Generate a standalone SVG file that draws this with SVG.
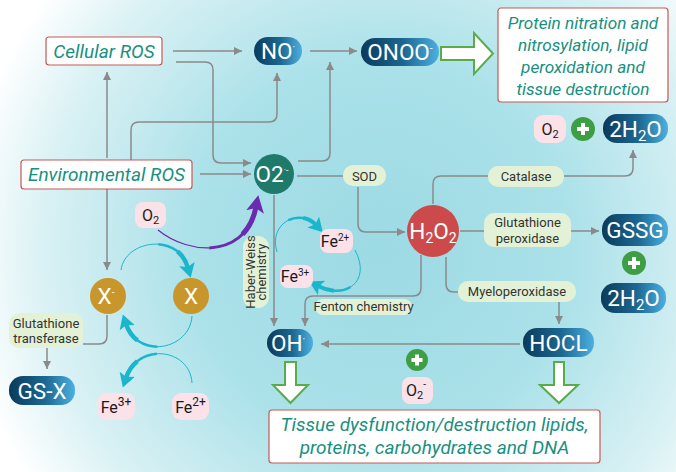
<svg xmlns="http://www.w3.org/2000/svg" width="676" height="472" viewBox="0 0 676 472">
<defs>
<radialGradient id="bg" gradientUnits="userSpaceOnUse" cx="380" cy="250" r="420">
<stop offset="0" stop-color="#9cdae4"/>
<stop offset="0.45" stop-color="#abe1e9"/>
<stop offset="0.8" stop-color="#d9f1f4"/>
<stop offset="1" stop-color="#ffffff"/>
</radialGradient>
<linearGradient id="pill" x1="0" y1="0" x2="1" y2="0">
<stop offset="0" stop-color="#0b3a5b"/>
<stop offset="0.55" stop-color="#1c6892"/>
<stop offset="1" stop-color="#4cb0e0"/>
</linearGradient>
<marker id="ah" markerUnits="userSpaceOnUse" markerWidth="10" markerHeight="10" refX="8" refY="4" orient="auto">
<path d="M0,0 L8,4 L0,8 Z" fill="#8a8a8a"/>
</marker>
<marker id="cy" markerUnits="userSpaceOnUse" markerWidth="18" markerHeight="18" refX="4" refY="8" orient="auto">
<path d="M0,0 L14,8 L0,16 L3,8 Z" fill="#1bb6cc"/>
</marker>
<marker id="pu" markerUnits="userSpaceOnUse" markerWidth="20" markerHeight="20" refX="5" refY="9" orient="auto">
<path d="M0,0 L17,9 L0,18 L4,9 Z" fill="#6a2bb0"/>
</marker>
<style>
.ln{fill:none;stroke:#8a8a8a;stroke-width:1.5}
.bx{fill:#ffffff;stroke:#c45a55;stroke-width:1.2}
.it{font-family:Roboto,"Liberation Sans",sans-serif;font-style:italic;fill:#17907f;text-anchor:middle}
.pt{font-family:Roboto,"Liberation Sans",sans-serif;fill:#ffffff;text-anchor:middle;font-size:22.5px}
.pk{fill:#fbe1e8}
.pkt{font-family:Roboto,"Liberation Sans",sans-serif;fill:#1a1a1a;text-anchor:middle;font-size:16px}
.gl{fill:#e3f2d6}
.glt{font-family:Roboto,"Liberation Sans",sans-serif;fill:#333333;text-anchor:middle;font-size:13px}
.ha{fill:#ffffff;stroke:#5aab49;stroke-width:2;stroke-linejoin:miter}
.cy{fill:none;stroke:#1bb6cc}
.pu{fill:none;stroke:#6a2bb0}
</style>
</defs>
<rect width="676" height="472" fill="url(#bg)"/>

<g id="connectors">
<path class="ln" d="M173,51 H242" marker-end="url(#ah)"/>
<path class="ln" d="M176,62 H205 Q213,62 213,70 V155 Q213,163 221,163 H251" marker-end="url(#ah)"/>
<path class="ln" d="M200,174 H251" marker-end="url(#ah)"/>
<path class="ln" d="M107,158 V72" marker-end="url(#ah)"/>
<path class="ln" d="M131,160 V130 Q131,122 139,122 H269 Q277,122 277,114 V73" marker-end="url(#ah)"/>
<path class="ln" d="M298,161 H322 Q330,161 330,153 V62" marker-end="url(#ah)"/>
<path class="ln" d="M310,51 H357" marker-end="url(#ah)"/>
<path class="ln" d="M297,176 H343"/>
<path class="ln" d="M358,187 V224 Q358,232 366,232 H405" marker-end="url(#ah)"/>
<path class="ln" d="M433,204 V184 Q433,176 441,176 H488"/>
<path class="ln" d="M564,176 H625 Q633,176 633,168 V150" marker-end="url(#ah)"/>
<path class="ln" d="M460,231 H484"/>
<path class="ln" d="M571,231 H599" marker-end="url(#ah)"/>
<path class="ln" d="M446,257 V284 Q446,292 454,292 H458"/>
<path class="ln" d="M559,301 V324" marker-end="url(#ah)"/>
<path class="ln" d="M520,344 H321" marker-end="url(#ah)"/>
<path class="ln" d="M274,195 V326" marker-end="url(#ah)"/>
<path class="ln" d="M421,255 V288 Q421,296 413,296 H313 Q305,296 305,304 V326" marker-end="url(#ah)"/>
<path class="ln" d="M107,189 V270" marker-end="url(#ah)"/>
<path class="ln" d="M107,315 V336 Q107,344 99,344 H83"/>
<path class="ln" d="M47,348 V369" marker-end="url(#ah)"/>

<g>
<path class="cy" stroke-width="1" d="M121,270 C125,240 178,232 188,268" pathLength="100"/>
<path class="cy" stroke-width="2.5" d="M121,270 C125,240 178,232 188,268" pathLength="100" stroke-dasharray="0 55 45"/>
<path class="cy" stroke-width="4.5" d="M121,270 C125,240 178,232 188,268" pathLength="100" stroke-dasharray="0 78 22" marker-end="url(#cy)"/>
</g>
<g>
<path class="cy" stroke-width="1" d="M192,316 C190,350 138,360 126,324" pathLength="100"/>
<path class="cy" stroke-width="2.5" d="M192,316 C190,350 138,360 126,324" pathLength="100" stroke-dasharray="0 55 45"/>
<path class="cy" stroke-width="4.5" d="M192,316 C190,350 138,360 126,324" pathLength="100" stroke-dasharray="0 78 22" marker-end="url(#cy)"/>
</g>
<g>
<path class="cy" stroke-width="1" d="M192,383 C190,348 138,342 126,378" pathLength="100"/>
<path class="cy" stroke-width="2.5" d="M192,383 C190,348 138,342 126,378" pathLength="100" stroke-dasharray="0 55 45"/>
<path class="cy" stroke-width="4.5" d="M192,383 C190,348 138,342 126,378" pathLength="100" stroke-dasharray="0 78 22" marker-end="url(#cy)"/>
</g>
<g>
<path class="cy" stroke-width="1" d="M277,252 C268,222 300,208 316,225" pathLength="100"/>
<path class="cy" stroke-width="2.5" d="M277,252 C268,222 300,208 316,225" pathLength="100" stroke-dasharray="0 55 45"/>
<path class="cy" stroke-width="4" d="M277,252 C268,222 300,208 316,225" pathLength="100" stroke-dasharray="0 78 22" marker-end="url(#cy)"/>
</g>
<g>
<path class="cy" stroke-width="1" d="M355,250 C372,282 345,300 318,286" pathLength="100"/>
<path class="cy" stroke-width="2.5" d="M355,250 C372,282 345,300 318,286" pathLength="100" stroke-dasharray="0 55 45"/>
<path class="cy" stroke-width="4" d="M355,250 C372,282 345,300 318,286" pathLength="100" stroke-dasharray="0 78 22" marker-end="url(#cy)"/>
</g>
<g>
<path class="pu" stroke-width="1.2" d="M158,230 C190,256 246,258 256,207" pathLength="100"/>
<path class="pu" stroke-width="3" d="M158,230 C190,256 246,258 256,207" pathLength="100" stroke-dasharray="0 45 55"/>
<path class="pu" stroke-width="5" d="M158,230 C190,256 246,258 256,207" pathLength="100" stroke-dasharray="0 75 25" marker-end="url(#pu)"/>
</g>
</g>

<g id="cellular-ros">
<rect class="bx" x="46" y="37" width="116" height="28" rx="3"/>
<text class="it" x="104" y="57.5" font-size="19">Cellular ROS</text>
</g>
<g id="environmental-ros">
<rect class="bx" x="21" y="160" width="171" height="29" rx="3"/>
<text class="it" x="106.5" y="181" font-size="19">Environmental ROS</text>
</g>
<g id="no">
<rect x="254" y="37" width="48" height="28" rx="14" fill="url(#pill)"/>
<text class="pt" x="278" y="59">NO<tspan dy="-8" font-size="10">·</tspan></text>
</g>
<g id="onoo">
<rect x="361" y="38" width="78" height="28" rx="14" fill="url(#pill)"/>
<text class="pt" x="400" y="60">ONOO<tspan dy="-8" font-size="10">-</tspan></text>
</g>
<g id="protein-box">
<polygon class="ha" points="441,47 474,47 474,33 493,53.5 474,74 474,60 441,60"/>
<rect class="bx" x="498" y="8" width="170" height="94" rx="3"/>
<text class="it" x="583" y="28.5" font-size="17.2">Protein nitration and</text>
<text class="it" x="583" y="50.5" font-size="17.2">nitrosylation, lipid</text>
<text class="it" x="583" y="72.5" font-size="17.2">peroxidation and</text>
<text class="it" x="583" y="94.5" font-size="17.2">tissue destruction</text>
</g>
<g id="o2-superoxide">
<circle cx="274" cy="174" r="20" fill="#1f7a6c"/>
<text class="pt" x="272" y="181.5" font-size="21">O2<tspan dy="-9" font-size="9">·-</tspan></text>
</g>
<g id="o2-left">
<rect class="pk" x="135" y="202" width="31" height="26" rx="8"/>
<text class="pkt" x="150.5" y="220.5" font-size="17">O<tspan dy="3" font-size="11">2</tspan></text>
</g>
<g id="sod">
<rect class="gl" x="343" y="165" width="43" height="21" rx="10"/>
<text class="glt" x="364.5" y="180.5" font-size="14">SOD</text>
</g>
<g id="h2o2">
<circle cx="433" cy="231" r="26" fill="#cd4a4a"/>
<text class="pt" x="433" y="238.5" font-size="21">H<tspan dy="4" font-size="14">2</tspan><tspan dy="-4">O</tspan><tspan dy="4" font-size="14">2</tspan></text>
</g>
<g id="catalase">
<rect class="gl" x="488" y="166" width="76" height="21" rx="10"/>
<text class="glt" x="526" y="181" font-size="14">Catalase</text>
</g>
<g id="o2-water">
<rect class="pk" x="534" y="115" width="32" height="28" rx="9"/>
<text class="pkt" x="550" y="135" font-size="17">O<tspan dy="3" font-size="11">2</tspan></text>
<circle cx="583" cy="129" r="12" fill="#3e9e44"/>
<path d="M577,129 H589 M583,123 V135" stroke="#ffffff" stroke-width="4"/>
</g>
<g id="water-1">
<rect x="603" y="114" width="65" height="29" rx="14" fill="url(#pill)"/>
<text class="pt" x="635.5" y="136.5">2H<tspan dy="4" font-size="15">2</tspan><tspan dy="-4">O</tspan></text>
</g>
<g id="gpx">
<rect class="gl" x="484" y="213" width="87" height="34" rx="10"/>
<text class="glt" x="527.5" y="227" font-size="13.5">Glutathione</text>
<text class="glt" x="527.5" y="243" font-size="13.5">peroxidase</text>
</g>
<g id="gssg">
<rect x="602" y="214" width="66" height="32" rx="15" fill="url(#pill)"/>
<text class="pt" x="635" y="238">GSSG</text>
</g>
<g id="plus-gssg">
<circle cx="634" cy="263" r="12" fill="#3e9e44"/>
<path d="M628,263 H640 M634,257 V269" stroke="#ffffff" stroke-width="4"/>
</g>
<g id="water-2">
<rect x="601" y="283" width="65" height="30" rx="14" fill="url(#pill)"/>
<text class="pt" x="633.5" y="306">2H<tspan dy="4" font-size="15">2</tspan><tspan dy="-4">O</tspan></text>
</g>
<g id="myeloperoxidase">
<rect class="gl" x="458" y="281" width="118" height="21" rx="10"/>
<text class="glt" x="517" y="296">Myeloperoxidase</text>
</g>
<g id="hocl">
<rect x="523" y="328" width="71" height="29" rx="14" fill="url(#pill)"/>
<text class="pt" x="558.5" y="350.5">HOCL</text>
<polygon class="ha" points="554,362 564,362 564,385 578,385 559,403 540,385 554,385"/>
</g>
<g id="haber-weiss">
<rect class="gl" x="243" y="236" width="26" height="72" rx="11"/>
<text class="glt" font-size="11.5" transform="translate(254.5,272) rotate(-90)" x="0" y="0">Haber-Weiss</text>
<text class="glt" font-size="11.5" transform="translate(266,272) rotate(-90)" x="0" y="0">chemistry</text>
</g>
<g id="fe2-right">
<rect class="pk" x="320" y="229" width="33" height="24" rx="8"/>
<text class="pkt" x="335" y="247">Fe<tspan dy="-6" font-size="10">2+</tspan></text>
</g>
<g id="fe3-right">
<rect class="pk" x="280" y="265" width="33" height="23" rx="8"/>
<text class="pkt" x="295" y="282">Fe<tspan dy="-6" font-size="10">3+</tspan></text>
</g>
<g id="fenton">
<rect class="gl" x="315" y="299" width="97" height="16" rx="8"/>
<text class="glt" x="363.5" y="311" font-size="11.5">Fenton chemistry</text>
</g>
<g id="oh">
<rect x="267" y="329" width="46" height="28" rx="14" fill="url(#pill)"/>
<text class="pt" x="288" y="351">OH<tspan dy="-8" font-size="10">·</tspan></text>
<polygon class="ha" points="285,362 296,362 296,385 308,385 290.5,403 273,385 285,385"/>
</g>
<g id="plus-o2">
<circle cx="417" cy="360" r="11" fill="#3e9e44"/>
<path d="M411.5,360 H422.5 M417,354.5 V365.5" stroke="#ffffff" stroke-width="4"/>
</g>
<g id="o2-minus">
<rect class="pk" x="402" y="377" width="31" height="27" rx="8"/>
<text class="pkt" x="416" y="396" font-size="17">O<tspan dy="3" font-size="11">2</tspan><tspan dy="-11" font-size="10">-</tspan></text>
</g>
<g id="tissue-box">
<rect class="bx" x="269" y="410" width="331" height="53" rx="3"/>
<text class="it" x="434.5" y="430.5" font-size="19">Tissue dysfunction/destruction lipids,</text>
<text class="it" x="434.5" y="454" font-size="19">proteins, carbohydrates and DNA</text>
</g>
<g id="x-minus">
<circle cx="108" cy="296" r="18" fill="#c8962a"/>
<text class="pt" x="106" y="304" font-size="21">X<tspan dy="-8" font-size="10">-</tspan></text>
</g>
<g id="x">
<circle cx="191" cy="296" r="18" fill="#c8962a"/>
<text class="pt" x="191" y="304" font-size="21">X</text>
</g>
<g id="gst">
<rect class="gl" x="9" y="313" width="74" height="35" rx="10"/>
<text class="glt" x="46" y="327.5">Glutathione</text>
<text class="glt" x="46" y="343">transferase</text>
</g>
<g id="gs-x">
<rect x="9" y="376" width="66" height="29" rx="14" fill="url(#pill)"/>
<text class="pt" x="42" y="398.5">GS-X</text>
</g>
<g id="fe3-left">
<rect class="pk" x="97" y="393" width="38" height="27" rx="9"/>
<text class="pkt" x="116" y="413" font-size="18">Fe<tspan dy="-7" font-size="12">3+</tspan></text>
</g>
<g id="fe2-left">
<rect class="pk" x="172" y="393" width="37" height="27" rx="9"/>
<text class="pkt" x="190.5" y="413" font-size="18">Fe<tspan dy="-7" font-size="12">2+</tspan></text>
</g>
</svg>
